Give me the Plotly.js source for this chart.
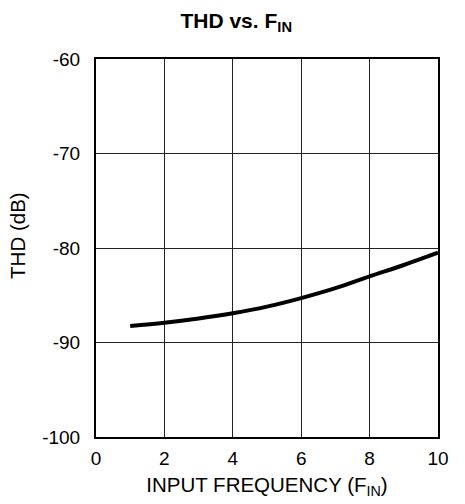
<!DOCTYPE html>
<html><head><meta charset="utf-8">
<script src="https://cdn.plot.ly/plotly-3.0.1.min.js"></script>
<style>html,body{margin:0;padding:0;background:#fff}#chart{width:465px;height:504px}</style>
</head><body><div id="chart"></div>
<script>
const freq = [1, 2, 3, 4, 5, 6, 7, 8, 9, 10];
const thd = [-88.25, -87.9, -87.45, -86.9, -86.2, -85.3, -84.25, -83.0, -81.8, -80.5];
const xTicks = [0, 2, 4, 6, 8, 10];
const yTicks = [-100, -90, -80, -70, -60];

const font = {family: 'Liberation Sans, Arial, sans-serif', color: '#000'};
Plotly.newPlot('chart', [{
  x: freq, y: thd, type: 'scatter', mode: 'lines',
  line: {color: '#000', width: 4, shape: 'spline'}
}], {
  width: 465, height: 504,
  margin: {l: 96, r: 27, t: 59, b: 67},
  paper_bgcolor: '#fff', plot_bgcolor: '#fff',
  showlegend: false,
  title: {text: '<b>THD vs. F<sub>IN</sub></b>', x: 0.508, xanchor: 'center', y: 0.96, yanchor: 'middle',
          font: Object.assign({size: 21}, font)},
  xaxis: {range: [0, 10], tickvals: xTicks, ticktext: xTicks.map(String),
          showgrid: true, gridcolor: '#222', gridwidth: 1,
          showline: true, linecolor: '#000', linewidth: 2, mirror: true,
          zeroline: false, ticks: '', ticklabelstandoff: 3,
          tickfont: Object.assign({size: 19}, font),
          title: {text: 'INPUT FREQUENCY (F<sub>IN</sub>)', standoff: 10, font: Object.assign({size: 20.5}, font)}},
  yaxis: {range: [-100, -60], tickvals: yTicks, ticktext: yTicks.map(String),
          showgrid: true, gridcolor: '#222', gridwidth: 1,
          showline: true, linecolor: '#000', linewidth: 2, mirror: true,
          zeroline: false, ticks: '', ticklabelstandoff: 10,
          tickfont: Object.assign({size: 19}, font)},
  annotations: [{text: 'THD (dB)', textangle: -90, xref: 'paper', yref: 'paper',
                 x: -0.228, y: 0.532, xanchor: 'center', yanchor: 'middle', showarrow: false,
                 font: Object.assign({size: 20.5}, font)}]
}, {staticPlot: true, displayModeBar: false});
</script></body></html>
